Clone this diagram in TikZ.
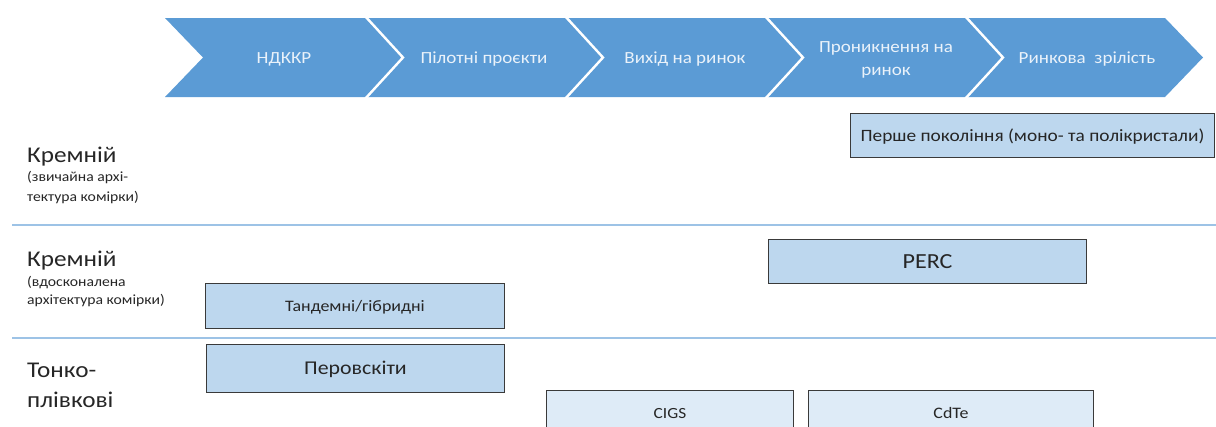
\documentclass[tikz,border=0pt]{standalone}
\usepackage{fontspec}
\setmainfont[FakeStretch=1.12]{Carlito}
\definecolor{chevblue}{HTML}{5B9BD5}
\definecolor{stagetxt}{HTML}{EAF2FA}
\definecolor{barfill}{HTML}{BDD7EE}
\definecolor{barlight}{HTML}{DEEBF7}
\definecolor{boxedge}{HTML}{3A3A3A}
\definecolor{rule}{HTML}{9DC3E6}
\definecolor{ink}{HTML}{262626}
\newcommand{\fs}[1]{\fontsize{#1}{#1}\selectfont}
\begin{document}
\begin{tikzpicture}[x=1pt,y=-1pt,
  stagefill/.style={fill=chevblue},
  stagegap/.style={draw=white, line width=2.4pt, line cap=butt, line join=miter},
  stagetext/.style={text=stagetxt, font=\fs{17}, inner sep=0pt, anchor=base},
  bar/.style={draw=boxedge, line width=1pt, fill=barfill, text=ink,
              inner sep=0pt, anchor=north west},
  barlite/.style={bar, fill=barlight},
  rowline/.style={draw=rule, line width=1.3pt},
  rowhead/.style={anchor=base west, text=ink, font=\fs{22.5}, inner sep=0pt},
  rownote/.style={anchor=base west, text=ink, font=\fs{14}, inner sep=0pt}
]
\useasboundingbox (0,0) rectangle (1216,426);
\clip (0,0) rectangle (1216,426);

% stage chevrons
\foreach \x in {165,365,565,765,965}{
  \path[stagefill] (\x,18) -- (\x+200,18) -- (\x+238,57.5) -- (\x+200,97)
        -- (\x,97) -- (\x+38,57.5) -- cycle;
}
\foreach \x in {365,565,765,965}{
  \draw[stagegap] (\x,16) -- (\x+38,57.5) -- (\x,99);
}
\node[stagetext] (s1) at (284,63.5) {НДККР};
\node[stagetext] (s2) at (484,63.5) {Пілотні проєкти};
\node[stagetext] (s3) at (685,63.5) {Вихід на ринок};
\node[stagetext] (s4) at (886,52.5) {Проникнення на};
\node[stagetext] (s4b) at (886,75) {ринок};
\node[stagetext] (s5) at (1087,63.5) {Ринкова\ \ зрілість};

% row separators
\coordinate (r1a) at (12,225);  \coordinate (r1b) at (1216,225);
\coordinate (r2a) at (12,338);  \coordinate (r2b) at (1216,338);
\draw[rowline] (r1a) -- (r1b);
\draw[rowline] (r2a) -- (r2b);

% row headings
\node[rowhead] (h1) at (27,162) {Кремній};
\node[rownote] (n1a) at (27,181.5) {(звичайна архі-};
\node[rownote] (n1b) at (27,201.5) {тектура комірки)};
\node[rowhead] (h2) at (27,266) {Кремній};
\node[rownote] (n2a) at (27,286) {(вдосконалена};
\node[rownote] (n2b) at (27,304) {архітектура комірки)};
\node[rowhead] (h3a) at (27,377.5) {Тонко-};
\node[rowhead] (h3b) at (27,407.5) {плівкові};

% technology bars (text height/depth keep the capitals centred in each bar)
\node[bar, font=\fs{17.3}, text height=12.9pt, text depth=1.7pt,
      minimum width=364pt, minimum height=44pt] (gen1) at (850,113)
  {Перше покоління (моно- та полікристали)};
\node[bar, font=\fs{21.5}, text height=16pt, text depth=2.15pt,
      minimum width=318pt, minimum height=44pt] (perc) at (768,239) {PERC};
\node[bar, font=\fs{16}, text height=11.9pt, text depth=1.6pt,
      minimum width=299pt, minimum height=45pt] (tand) at (205,283) {Тандемні/гібридні};
\node[bar, font=\fs{19.5}, text height=14.5pt, text depth=1.95pt,
      minimum width=298pt, minimum height=48pt] (perov) at (206,344) {Перовскіти};
\node[barlite, font=\fs{15.5}, text height=11.5pt, text depth=1.55pt,
      minimum width=247pt, minimum height=46pt] (cigs) at (546,390) {CIGS};
\node[barlite, font=\fs{16}, text height=11.9pt, text depth=1.6pt,
      minimum width=285pt, minimum height=46pt] (cdte) at (808,390) {CdTe};
\end{tikzpicture}
\end{document}
